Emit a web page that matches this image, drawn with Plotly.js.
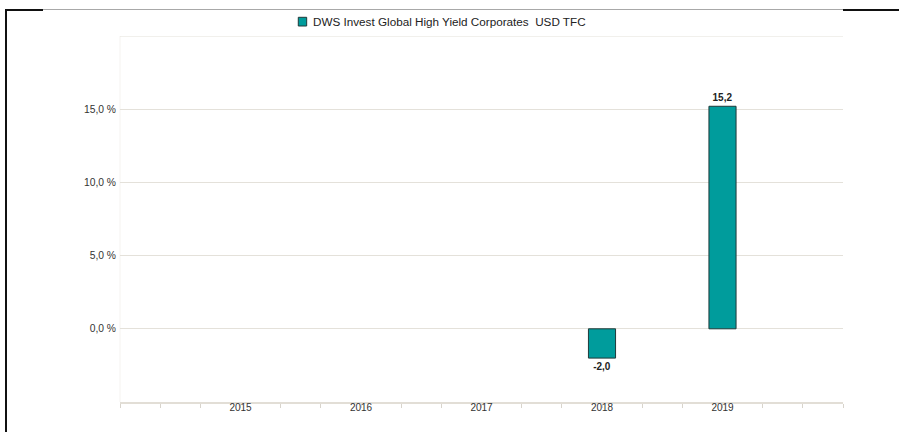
<!DOCTYPE html>
<html>
<head>
<meta charset="utf-8">
<script src="https://cdn.plot.ly/plotly-3.0.1.min.js"></script>
<style>
  html, body { margin:0; padding:0; background:#fff; }
  #wrap { position:relative; width:899px; height:432px; overflow:hidden; }
  #chart { position:absolute; left:0; top:0; width:899px; height:432px; }
  .ln { position:absolute; }
</style>
</head>
<body>
<div id="wrap">
  <div id="chart"></div>
  <div class="ln" style="left:43px; top:9px; width:800px; height:1px; background:#a8a8a8;"></div>
  <div class="ln" style="left:5px; top:9px; width:38px; height:2px; background:#111;"></div>
  <div class="ln" style="left:843px; top:9px; width:56px; height:2px; background:#111;"></div>
  <div class="ln" style="left:5px; top:9px; width:2px; height:423px; background:#111;"></div>
</div>
<script>
const seriesName = 'DWS Invest Global High Yield Corporates  USD TFC';
const years = [2015, 2016, 2017, 2018, 2019];
const returns = [null, null, null, -2.0, 15.2];
const yTickVals = [0, 5, 10, 15, 20];
const yTickText = ['0,0 %', '5,0 %', '10,0 %', '15,0 %', ''];

const labels = returns.map(v => v === null ? '' : v.toFixed(1).replace('.', ','));
const barColor = '#009c9c';
const barLine = '#1f3a3a';
const gridColor = '#e4e1da';

const trace = {
  type: 'bar',
  name: seriesName,
  x: years,
  y: returns,
  width: 0.225,
  text: labels,
  textposition: 'outside',
  textfont: { family: 'Liberation Sans, Arial, sans-serif', size: 10, color: '#222', weight: 'bold' },
  cliponaxis: false,
  marker: { color: barColor, line: { color: barLine, width: 1 } },
  showlegend: false,
  hoverinfo: 'skip'
};

const layout = {
  width: 899, height: 432,
  margin: { l: 120, r: 56, t: 36, b: 30, pad: 0, autoexpand: false },
  paper_bgcolor: 'rgba(0,0,0,0)',
  plot_bgcolor: '#fff',
  font: { family: 'Liberation Sans, Arial, sans-serif', size: 10, color: '#333' },
  showlegend: false,
  bargap: 0,
  xaxis: {
    type: 'linear', range: [2014, 2020], fixedrange: true,
    tickvals: years, ticktext: years.map(String),
    ticks: '', showgrid: false, zeroline: false,
    showline: true, linecolor: '#e2ded6', linewidth: 2,
    tickfont: { size: 10, color: '#333' },
    minor: { dtick: 1/3, tick0: 2014, ticks: 'outside', ticklen: 4, tickcolor: '#d8d4cc', tickwidth: 1, showgrid: false },
    ticklabelstandoff: -5
  },
  yaxis: {
    range: [-5, 20], fixedrange: true,
    tickvals: yTickVals, ticktext: yTickText,
    showgrid: true, gridcolor: gridColor, gridwidth: 1,
    zeroline: false, showline: false, ticks: '',
    tickfont: { size: 10.3, color: '#333' },
    ticklabelstandoff: 3
  },
  shapes: [
    { type: 'line', xref: 'paper', yref: 'paper', x0: 0, x1: 0, y0: 0, y1: 1, line: { color: '#f5f3f0', width: 1 }, layer: 'below' },
    { type: 'line', xref: 'paper', yref: 'y', x0: 0, x1: 1, y0: 20, y1: 20, line: { color: gridColor, width: 1 }, layer: 'below' },
    { type: 'rect', xref: 'paper', yref: 'paper', x0: 0.2466, x1: 0.2582, y0: 1.0273, y1: 1.0511,
      fillcolor: barColor, line: { color: barLine, width: 1 } }
  ],
  annotations: [
    { xref: 'paper', yref: 'paper', x: 0.2645, y: 1.040, xanchor: 'left', yanchor: 'middle',
      text: seriesName.replace(/  /g, ' &nbsp;'), showarrow: false, font: { size: 11.7, color: '#222' } }
  ]
};

Plotly.newPlot('chart', [trace], layout, { staticPlot: true, displayModeBar: false });
</script>
</body>
</html>
